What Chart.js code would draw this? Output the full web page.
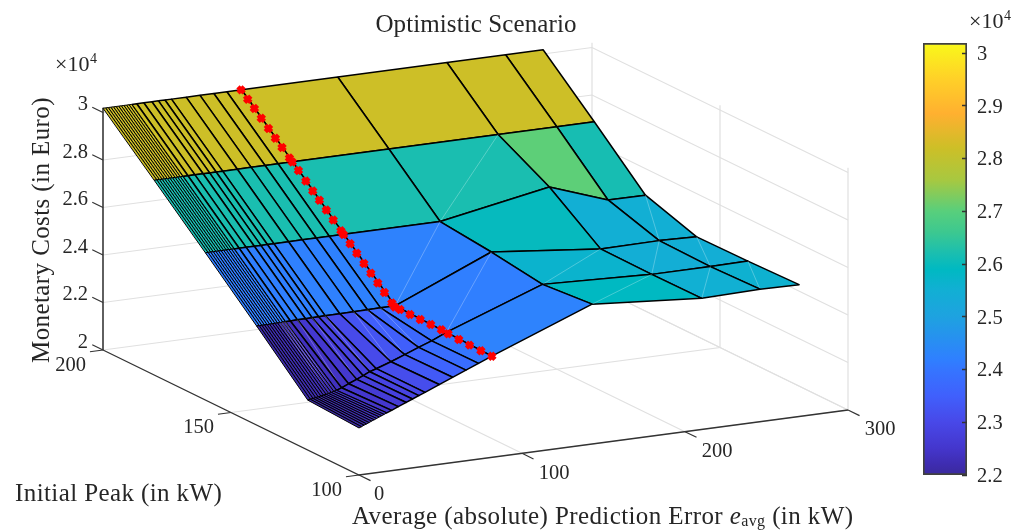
<!DOCTYPE html>
<html>
<head>
<meta charset="utf-8">
<title>Optimistic Scenario</title>
<script src="https://cdn.jsdelivr.net/npm/chart.js@4/dist/chart.umd.min.js"></script>
<style>
  html, body { margin: 0; padding: 0; background: #fff; overflow: hidden; }
  #surface { position: absolute; left: 0; top: 0; }
  #colorbar { position: absolute; left: 915px; top: 28px; }
</style>
</head>
<body>
<canvas id="surface" width="1024" height="531"></canvas>
<canvas id="colorbar" width="109" height="462"></canvas>
<script>
// ---------- data (costs are in units of 10^4 Euro) ----------
const peaks = [200, 180, 160, 140, 120, 100];
const errs = [0, 1.6, 3.2, 4.8, 6.4, 8, 9.6, 11.2, 12.8, 14.4, 16, 17.6, 20.7, 25, 30, 34, 38, 42, 51, 59.5, 68, 76, 85, 144, 211, 247, 270];
// the peak=100 row was measured a little left of the others
const errsPeak100 = [0, 1.5, 3.1, 4.6, 6.2, 7.7, 9.3, 10.8, 12.4, 13.9, 15.4, 17, 20, 24.1, 29, 32.8, 36.7, 40.5, 49.2, 57.4, 65.6, 73.3, 81.5, 143, 210.3, 246, 270];

const costPeak200 = [3.018, 3.018, 3.018, 3.018, 3.018, 3.018, 3.018, 3.018, 3.018, 3.018, 3.018, 3.018, 3.018, 3.018, 3.018, 3.018, 3.018, 3.018, 3.018, 3.018, 3.018, 3.018, 3.018, 3.018, 3.018, 3.018, 3.018];
const costPeak180 = [2.82, 2.82, 2.82, 2.82, 2.82, 2.82, 2.82, 2.82, 2.82, 2.82, 2.82, 2.82, 2.82, 2.82, 2.82, 2.82, 2.82, 2.82, 2.82, 2.82, 2.82, 2.82, 2.82, 2.82, 2.82, 2.82, 2.82];
const costPeak160 = [2.62, 2.62, 2.62, 2.62, 2.62, 2.62, 2.62, 2.62, 2.62, 2.62, 2.62, 2.62, 2.62, 2.62, 2.62, 2.62, 2.62, 2.62, 2.62, 2.62, 2.62, 2.62, 2.62, 2.62, 2.704, 2.617, 2.616];
const costPeak140 = [2.417, 2.417, 2.417, 2.417, 2.417, 2.417, 2.418, 2.418, 2.418, 2.418, 2.419, 2.419, 2.419, 2.42, 2.42, 2.421, 2.421, 2.422, 2.422, 2.423, 2.423, 2.424, 2.424, 2.597, 2.549, 2.551, 2.546];
const costPeak120 = [2.21, 2.212, 2.214, 2.216, 2.218, 2.22, 2.222, 2.224, 2.226, 2.229, 2.232, 2.235, 2.243, 2.256, 2.27, 2.282, 2.295, 2.304, 2.325, 2.347, 2.37, 2.39, 2.418, 2.566, 2.547, 2.547, 2.549];
const costPeak100 = [2.198, 2.202, 2.207, 2.211, 2.215, 2.22, 2.224, 2.228, 2.233, 2.237, 2.241, 2.246, 2.254, 2.266, 2.279, 2.29, 2.301, 2.311, 2.336, 2.359, 2.382, 2.403, 2.426, 2.589, 2.552, 2.558, 2.555];
const costRows = [costPeak200, costPeak180, costPeak160, costPeak140, costPeak120, costPeak100];

// red marker path
const redPeaks = [200, 197.4, 194.8, 192.1, 189.3, 186.6, 184, 181.1, 180, 177.6, 174.7, 172, 169.4, 166.7, 164, 161, 160, 157.4, 154.8, 152, 149.3, 146.6, 144, 141.1, 140, 137.9, 134, 130, 125.9, 121.7, 118.7, 114, 109.4, 104.6, 100];
const redErrs = [84.7, 84.7, 84.7, 84.7, 84.7, 84.7, 84.7, 84.7, 84.7, 84.7, 84.7, 84.7, 84.7, 84.7, 84.7, 84.7, 84.7, 84.7, 84.7, 84.7, 84.7, 84.7, 84.7, 84.7, 84.7, 84.7, 84.7, 84.7, 84.7, 84.6, 84, 83.2, 82.6, 82, 81.5];
const redCosts = [3.018, 2.992, 2.967, 2.94, 2.912, 2.885, 2.86, 2.831, 2.82, 2.796, 2.767, 2.74, 2.714, 2.687, 2.66, 2.63, 2.62, 2.594, 2.568, 2.54, 2.513, 2.486, 2.46, 2.431, 2.42, 2.42, 2.42, 2.42, 2.42, 2.42, 2.42, 2.421, 2.422, 2.424, 2.426];

const errTicks = [0, 100, 200, 300];
const peakTicks = [100, 150, 200];
const costTicks = [2, 2.2, 2.4, 2.6, 2.8, 3];
const colorbarTicks = [2.2, 2.3, 2.4, 2.5, 2.6, 2.7, 2.8, 2.9, 3];

// faces that show a pale triangulation seam: [row, err index]
const seamFaces = [[1, 23], [2, 22], [2, 25], [3, 22], [3, 23], [3, 24], [3, 25], [4, 23], [4, 24], [4, 25],
  [3, 8], [3, 9], [3, 10], [3, 12], [3, 14], [3, 16], [3, 18], [3, 19], [3, 20]];

// colormap
const cmapLevels = [2.197, 2.22, 2.25, 2.3, 2.35, 2.4, 2.42, 2.5, 2.55, 2.59, 2.62, 2.66, 2.7, 2.76, 2.82, 2.885, 2.95, 3.019];
const cmapColors = ["#3a2a9c", "#3e2cb0", "#4436cc", "#4848e8", "#4060fc", "#3575ff", "#2f80ff", "#1ea2e0", "#12afd4", "#00b9c2", "#1abeb0", "#3cc890", "#58cf7c", "#a8c840", "#cdbf27", "#ffb030", "#ffd028", "#f9f91a"];

const COST_MIN = 2.2;
const COST_MAX = 3.019;
const BOX_TOP = 3.02;

// ---------- helpers ----------
const TEXT = "#262626";
const SERIF = '"Liberation Serif", serif';
const GRID = "#e0e0e0";
const AXIS = "#333333";

// fixed MATLAB-like camera: data units to canvas units
function project(err, peak, cost) {
  return {
    x: 359 + (err / 300) * 489 - ((peak - 100) / 100) * 256,
    y: 475 - (err / 300) * 65 - ((peak - 100) / 100) * 125 - (cost - 2) * 237.5,
  };
}

function hexToRgb(hex) {
  return [1, 3, 5].map((i) => parseInt(hex.slice(i, i + 2), 16));
}

function colorFor(cost) {
  let i = 0;
  while (i < cmapLevels.length - 2 && cost > cmapLevels[i + 1]) i++;
  const f = Math.min(1, Math.max(0, (cost - cmapLevels[i]) / (cmapLevels[i + 1] - cmapLevels[i])));
  const a = hexToRgb(cmapColors[i]);
  const b = hexToRgb(cmapColors[i + 1]);
  return `rgb(${a.map((v, k) => Math.round(v + (b[k] - v) * f)).join(",")})`;
}

function errAt(row, j) {
  return peaks[row] === 100 ? errsPeak100[j] : errs[j];
}

function vertex(row, j) {
  return project(errAt(row, j), peaks[row], costRows[row][j]);
}

function lineSet(points, color, width) {
  return { data: points, showLine: true, pointRadius: 0, borderColor: color, borderWidth: width, fill: false };
}

// ---------- datasets in painter order (back first) ----------
function buildDatasets() {
  const out = [];

  // walls and floor grid
  for (const c of costTicks) {
    out.push(lineSet([project(0, 200, c), project(300, 200, c), project(300, 100, c)], GRID, 1.2));
  }
  for (const e of errTicks.slice(1)) {
    out.push(lineSet([project(e, 100, 2), project(e, 200, 2), project(e, 200, BOX_TOP)], GRID, 1.2));
  }
  for (const p of peakTicks.slice(0, 2)) {
    out.push(lineSet([project(0, p, 2), project(300, p, 2), project(300, p, BOX_TOP)], GRID, 1.2));
  }

  // axes and tick marks
  out.push(lineSet([project(0, 200, 2), project(0, 200, BOX_TOP)], "#444444", 1.7));
  out.push(lineSet([project(0, 200, 2), project(0, 100, 2), project(300, 100, 2)], AXIS, 1.3));
  for (const c of costTicks) {
    out.push(lineSet([project(0, 200, c), project(0, 204.2, c)], AXIS, 1.2));
  }
  for (const p of peakTicks) {
    out.push(lineSet([project(0, p, 2), project(-8, p, 2)], AXIS, 1.2));
  }
  for (const e of errTicks) {
    out.push(lineSet([project(e, 100, 2), project(e, 95.5, 2)], AXIS, 1.2));
  }

  // surface faces; a face takes the colour of its lowest-index corner
  for (let r = 0; r < peaks.length - 1; r++) {
    for (let j = errs.length - 2; j >= 0; j--) {
      const quad = [vertex(r, j), vertex(r, j + 1), vertex(r + 1, j + 1), vertex(r + 1, j), vertex(r, j)];
      out.push({
        data: quad,
        showLine: true,
        pointRadius: 0,
        fill: "shape",
        backgroundColor: colorFor(costRows[r + 1][j]),
        borderColor: "#000000",
        borderWidth: j < 11 ? 1 : 1.5,
        borderJoinStyle: "round",
      });
      if (seamFaces.some((s) => s[0] === r && s[1] === j)) {
        out.push(lineSet([vertex(r + 1, j), vertex(r, j + 1)], "rgba(255,255,255,0.3)", 0.9));
      }
    }
  }

  // red markers
  out.push({
    data: redPeaks.map((p, i) => project(redErrs[i], p, redCosts[i])),
    showLine: false,
    pointStyle: "crossRot",
    pointRadius: 4.4,
    pointBorderColor: "#ff0000",
    pointBorderWidth: 4.6,
    fill: false,
  });

  // Chart.js paints the first dataset last
  return out.reverse();
}

// ---------- text ----------
function put(ctx, text, x, y, size, align, italic) {
  ctx.font = `${italic ? "italic " : ""}${size}px ${SERIF}`;
  ctx.textAlign = align || "center";
  ctx.textBaseline = "middle";
  ctx.fillText(text, x, y);
}

// "x10^4" multiplier
function putExponent(ctx, x, y) {
  put(ctx, "×10", x, y, 22, "left");
  const w = ctx.measureText("×10").width;
  put(ctx, "4", x + w + 0.5, y - 6, 14, "left");
}

const surfaceText = {
  id: "surfaceText",
  afterDraw(chart) {
    const ctx = chart.ctx;
    ctx.save();
    ctx.fillStyle = TEXT;

    ctx.letterSpacing = "0.1px";
    put(ctx, "Optimistic Scenario", 476, 25, 25);
    ctx.letterSpacing = "0px";
    putExponent(ctx, 55, 65);
    putExponent(ctx, 969, 22);

    costTicks.forEach((c) => {
      const p = project(0, 200, c);
      put(ctx, String(c), 88, p.y - 7.5, 20.5, "right");
    });
    peakTicks.forEach((v) => {
      const p = project(0, v, 2);
      put(ctx, String(v), p.x - 17, p.y + 15.5, 20.5, "right");
    });
    errTicks.forEach((v) => {
      const p = project(v, 100, 2);
      put(ctx, String(v), p.x + 20 + (v === 0 ? 0 : 12), p.y + 20, 20.5);
    });

    ctx.letterSpacing = "0.4px";
    put(ctx, "Initial Peak (in kW)", 15, 494, 25, "left");

    // x label with italic symbol and subscript
    let x = 352;
    const y = 517;
    put(ctx, "Average (absolute) Prediction Error ", x, y, 25, "left");
    x += ctx.measureText("Average (absolute) Prediction Error ").width;
    put(ctx, "e", x, y, 25, "left", true);
    x += ctx.measureText("e").width;
    put(ctx, "avg", x, y + 5, 16, "left");
    x += ctx.measureText("avg").width;
    put(ctx, " (in kW)", x, y, 25, "left");

    ctx.translate(42, 230);
    ctx.rotate(-Math.PI / 2);
    put(ctx, "Monetary Costs (in Euro)", 0, 0, 25);
    ctx.restore();
  },
};

// ---------- charts ----------
new Chart(document.getElementById("surface").getContext("2d"), {
  type: "scatter",
  data: { datasets: buildDatasets() },
  plugins: [surfaceText],
  options: {
    responsive: false,
    animation: false,
    layout: { padding: 0, autoPadding: false },
    plugins: { legend: { display: false }, tooltip: { enabled: false } },
    scales: {
      x: { type: "linear", min: 0, max: 1024, display: false },
      y: { type: "linear", min: 0, max: 531, reverse: true, display: false },
    },
  },
});

function colorbarFill(context) {
  const chart = context.chart;
  if (!chart.chartArea) return cmapColors[0];
  const y = chart.scales.y;
  const g = chart.ctx.createLinearGradient(0, y.getPixelForValue(COST_MIN), 0, y.getPixelForValue(COST_MAX));
  cmapLevels.forEach((v, i) => {
    g.addColorStop(Math.min(1, Math.max(0, (v - COST_MIN) / (COST_MAX - COST_MIN))), cmapColors[i]);
  });
  return g;
}

new Chart(document.getElementById("colorbar").getContext("2d"), {
  type: "bar",
  data: {
    labels: ["cost"],
    datasets: [{
      data: [[COST_MIN, COST_MAX]],
      backgroundColor: colorbarFill,
      borderColor: "#404040",
      borderWidth: 2,
      borderSkipped: false,
      barPercentage: 1,
      categoryPercentage: 1,
    }],
  },
  options: {
    responsive: false,
    animation: false,
    layout: { padding: { left: 8, top: 15, bottom: 15 }, autoPadding: false },
    plugins: { legend: { display: false }, tooltip: { enabled: false } },
    scales: {
      x: { display: false },
      y: {
        position: "right",
        min: COST_MIN,
        max: COST_MAX,
        afterBuildTicks: (s) => { s.ticks = colorbarTicks.map((v) => ({ value: v })); },
        afterFit: (s) => { s.width = 57; s.paddingTop = 0; s.paddingBottom = 0; },
        border: { display: false },
        grid: { drawOnChartArea: false, tickLength: -5, tickColor: "#333333", tickWidth: 1.5, z: 1 },
        ticks: { color: TEXT, padding: 15, labelOffset: 1.5, font: { family: "Liberation Serif", size: 20.5 }, callback: (v) => String(v) },
      },
    },
  },
});
</script>
</body>
</html>
